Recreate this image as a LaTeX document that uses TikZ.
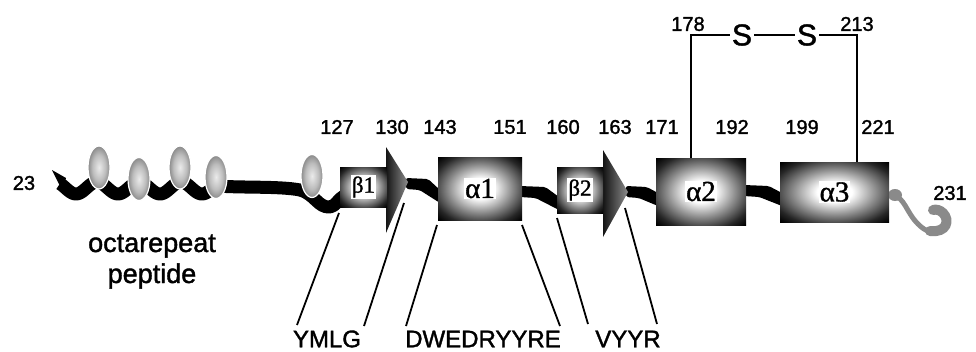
\documentclass[tikz,border=0pt]{standalone}
\usepackage{fontspec}
\setmainfont{Liberation Sans}[UprightFeatures={FakeBold=1.5}]
\newfontfamily\serifgreek{Liberation Serif}[UprightFeatures={FakeBold=1.2}]
\usetikzlibrary{calc,shapes.geometric}

% shadings: glowing domain boxes and the octarepeat beads
\pgfdeclareradialshading{boxglow}{\pgfpoint{0bp}{0bp}}{color(0bp)=(white); color(8bp)=(white); color(19bp)=(black!45); color(29bp)=(black!85); color(35bp)=(black); color(100bp)=(black)}
\pgfdeclareradialshading{beadglow}{\pgfpoint{0bp}{0bp}}{color(0bp)=(black!8); color(15bp)=(black!26); color(28bp)=(black!52); color(36bp)=(black!72); color(100bp)=(black!72)}
\definecolor{tailgray}{HTML}{8A8A8A}

\tikzset{
  num/.style={font=\fontsize{20}{20}\selectfont, inner sep=0pt},
  seq/.style={font=\fontsize{24}{24}\selectfont, inner sep=0pt},
  sulfur/.style={font=\fontsize{30}{30}\selectfont, inner sep=2pt},
  ssbox/.style={rectangle, shading=boxglow, inner sep=0pt},
  sslabel/.style={fill=white, inner sep=1pt, font=\serifgreek\fontsize{#1}{#1}\selectfont},
  bead/.style={ellipse, shading=beadglow, draw=white, line width=1.2pt,
    minimum width=22pt, minimum height=43pt, inner sep=0pt},
  strandhead/.style={left color=black!92, right color=black!45},
  callout/.style={line width=1.8pt},
  bond/.style={line width=1.8pt},
  caption/.style={font=\fontsize{27}{27}\selectfont, inner sep=0pt, anchor=base},
}

% twisted band joining two domains
\newcommand\linkband[2]{%
  \fill[rounded corners=2pt] let \p1=(#1), \p2=(#2) in
    (\x1,{\y1+6pt}) -- ({\x1+0.65*(\x2-\x1)},{\y1+5pt}) -- (\x2,{\y2+7pt})
    -- (\x2,{\y2-6pt}) -- ({\x1+0.4*(\x2-\x1)},{\y1-6pt}) -- (\x1,{\y1-5pt}) -- cycle;}

\begin{document}
\begin{tikzpicture}[x=1pt,y=-1pt]
\useasboundingbox (0,0) rectangle (976,351);

% N-terminal flexible tail (wave period 42, i.e. 8.5714 degrees per unit)
\fill (52,170) -- (66,178) -- (62,190) -- cycle;
\draw[line width=13pt, line join=round]
  plot[domain=60:215, samples=90, smooth] (\x,{188+6*sin((\x-55)*8.5714-90)})
  .. controls (240,188) and (280,186) .. (300,190)
  .. controls (315,194) and (318,208) .. (330,207)
  .. controls (336,206) and (338,199) .. (344,196);

% link ends
\coordinate (l1a) at (406,184);  \coordinate (l1b) at (440,197);
\coordinate (l2a) at (520,192);  \coordinate (l2b) at (559,204);
\coordinate (l3a) at (626,192);  \coordinate (l3b) at (658,200);
\coordinate (l4a) at (744,191);  \coordinate (l4b) at (782,200);
\linkband{l1a}{l1b}
\linkband{l2a}{l2b}
\linkband{l3a}{l3b}
\linkband{l4a}{l4b}

% C-terminal hook
\draw[tailgray, line width=5pt, line cap=round]
  (893,195) .. controls (905,198) and (906,212) .. (918,224)
  .. controls (924,230) and (930,233) .. (936,232);
\draw[tailgray, line width=10pt, line cap=round]
  (930,231) .. controls (947,233) and (950,220) .. (943,213)
  .. controls (940,210) and (936,209) .. (933,210);
\fill[tailgray] (895,195) ellipse [x radius=7, y radius=6];

% strand arrow heads
\coordinate (t1a) at (386,147); \coordinate (b1tip) at (408,182); \coordinate (t1b) at (386,233);
\coordinate (t2a) at (603,150); \coordinate (b2tip) at (628,192); \coordinate (t2b) at (603,237);
\shade[strandhead] (t1a) -- (b1tip) -- (t1b) -- cycle;
\shade[strandhead] (t2a) -- (b2tip) -- (t2b) -- cycle;

% secondary structure elements
\node[ssbox, minimum width=47pt, minimum height=40pt] (b1) at (363.5,187) {};
\node[ssbox, minimum width=84pt, minimum height=63pt] (a1) at (480,188.5) {};
\node[ssbox, minimum width=46pt, minimum height=46pt] (b2) at (580,190) {};
\node[ssbox, minimum width=90pt, minimum height=67pt] (a2) at (701,191.5) {};
\node[ssbox, minimum width=109pt, minimum height=60pt] (a3) at (834.5,192) {};

\node[sslabel=23] (b1l) at (b1) {β1};
\node[sslabel=29] (a1l) at (a1) {α1};
\node[sslabel=23] (b2l) at (b2) {β2};
\node[sslabel=29] (a2l) at (a2) {α2};
\node[sslabel=29] (a3l) at (a3) {α3};

% octarepeat beads
\node[bead] (o1) at (99,167.5) {};
\node[bead] (o2) at (139,179) {};
\node[bead] (o3) at (180,167.5) {};
\node[bead] (o4) at (216,177) {};
\node[bead] (o5) at (312,176) {};

% disulfide bridge
\coordinate (c178) at (691,35);
\coordinate (c213) at (857,35);
\node[sulfur] (s1) at (742,35) {S};
\node[sulfur] (s2) at (807,35) {S};
\draw[bond] (a2.north -| c178) -- (c178) -- (s1) -- (s2) -- (c213) -- (c213 |- a3.north);

% residue numbers
\node[num] (n23)  at (24,183) {23};
\node[num] (n127) at (337,127) {127};
\node[num] (n130) at (392,127) {130};
\node[num] (n143) at (440,127) {143};
\node[num] (n151) at (510,127) {151};
\node[num] (n160) at (563,127) {160};
\node[num] (n163) at (615,127) {163};
\node[num] (n171) at (662,127) {171};
\node[num] (n192) at (732,127) {192};
\node[num] (n199) at (802,127) {199};
\node[num] (n221) at (878,127) {221};
\node[num] (n178) at (688,24) {178};
\node[num] (n213) at (857,24) {213};
\node[num] (n231) at (950,193) {231};

\node[caption] (octa) at (152,252) {octarepeat};
\node[caption] (pept) at (152,283) {peptide};

% sequence call-outs
\node[seq] (ymlg) at (327,339) {YMLG};
\node[seq] (dwed) at (483,339) {DWEDRYYRE};
\node[seq] (vyyr) at (628,339) {VYYR};

\coordinate (y1t) at (339,213); \coordinate (y1b) at (297,325);
\coordinate (y2t) at (404,203); \coordinate (y2b) at (364,326);
\coordinate (d1t) at (437,225); \coordinate (d1b) at (406,326);
\coordinate (d2t) at (522,225); \coordinate (d2b) at (560,326);
\coordinate (v1t) at (557,218); \coordinate (v1b) at (588,324);
\coordinate (v2t) at (625,208); \coordinate (v2b) at (657,324);
\draw[callout] (y1t) -- (y1b);
\draw[callout] (y2t) -- (y2b);
\draw[callout] (d1t) -- (d1b);
\draw[callout] (d2t) -- (d2b);
\draw[callout] (v1t) -- (v1b);
\draw[callout] (v2t) -- (v2b);
\end{tikzpicture}
\end{document}
